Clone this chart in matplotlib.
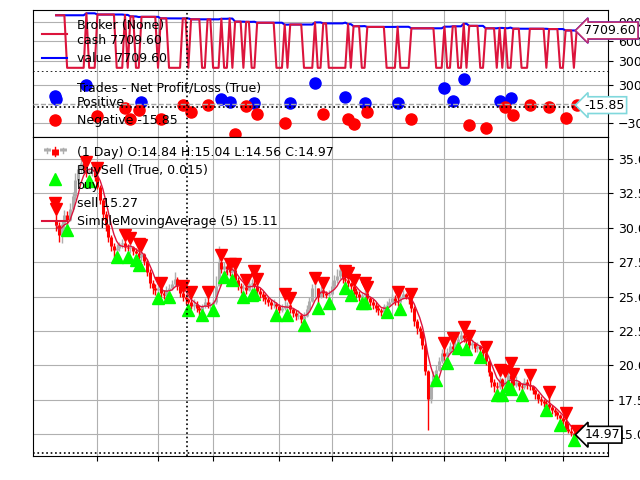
import matplotlib

matplotlib.use("Agg")
import matplotlib.pyplot as plt
import numpy as np
import pandas as pd
from matplotlib.legend_handler import HandlerBase
from matplotlib.lines import Line2D

# daily bars shown in the plot window (bar index 0..189)
open_first = 30.6
close = [
    30.2, 29.5, 30.3, 30.9, 30.6, 31.4, 32.3, 33.5, 34.3, 34.7,
    34.2, 34.0, 34.1, 34.3, 33.7, 33.0, 32.0, 31.0, 30.2, 29.3,
    28.7, 28.4, 28.5, 28.8, 28.9, 28.6, 28.5, 28.6, 28.3, 28.2,
    27.9, 28.1, 27.6, 26.8, 26.0, 25.6, 25.5, 25.6, 25.3, 25.1,
    25.5, 25.6, 25.9, 26.3, 25.8, 25.3, 25.0, 24.8, 24.6, 24.3,
    24.5, 24.2, 24.0, 24.3, 24.6, 24.4, 24.5, 24.6, 25.8, 27.5,
    27.0, 27.2, 27.0, 26.8, 26.9, 26.2, 25.8, 25.6, 25.7, 25.5,
    25.9, 26.0, 25.8, 25.4, 25.2, 25.0, 24.8, 24.6, 24.4, 24.5,
    24.3, 24.0, 24.2, 24.3, 24.4, 24.1, 23.8, 23.6, 23.7, 23.4,
    23.6, 24.1, 24.7, 25.6, 25.6, 25.0, 25.5, 25.3, 25.1, 25.2,
    25.8, 26.2, 26.5, 26.9, 26.3, 26.2, 26.0, 25.8, 25.4, 25.2,
    25.0, 25.1, 25.3, 24.9, 24.6, 24.4, 24.2, 24.0, 23.9, 24.3,
    24.4, 24.6, 24.9, 24.7, 24.6, 24.9, 25.2, 25.0, 24.8, 24.2,
    23.2, 22.7, 22.5, 21.5, 19.6, 17.6, 18.5, 19.3, 19.7, 20.3,
    20.9, 20.7, 21.0, 21.4, 21.2, 21.6, 21.9, 22.2, 22.0, 21.8,
    21.5, 21.6, 21.3, 21.4, 21.2, 20.9, 20.3, 19.5, 18.8, 18.5,
    18.4, 19.0, 18.5, 18.9, 19.3, 19.0, 18.6, 18.8, 18.5, 18.4,
    18.8, 18.6, 18.5, 18.2, 17.9, 17.6, 17.4, 17.3, 17.2, 17.0,
    16.8, 16.6, 16.4, 16.2, 16.0, 15.4, 15.25, 15.1, 14.84, 14.97,
]
high = [
    30.9, 30.4, 30.6, 31.3, 31.2, 31.8, 32.6, 34.0, 34.6, 35.0,
    34.9, 34.3, 34.3, 34.8, 34.4, 33.85, 33.1, 32.2, 31.2, 30.3,
    29.5, 28.9, 28.8, 29.0, 29.2, 29.05, 28.8, 28.8, 28.7, 28.5,
    28.4, 28.3, 28.2, 27.7, 27.0, 26.2, 25.9, 25.8, 25.6, 25.5,
    25.8, 25.9, 26.2, 26.8, 26.4, 25.9, 25.4, 25.2, 24.9, 24.97,
    24.8, 24.7, 24.4, 24.5, 24.9, 24.97, 24.6, 24.8, 26.5, 28.7,
    27.6, 27.5, 27.4, 27.0, 27.2, 27.0, 26.4, 26.0, 25.9, 25.8,
    26.3, 26.3, 26.5, 25.9, 25.6, 25.4, 25.2, 25.0, 24.8, 24.8,
    24.6, 24.5, 24.5, 24.8, 24.6, 24.5, 24.2, 24.0, 24.0, 23.8,
    23.9, 24.4, 25.0, 25.9, 26.0, 25.6, 25.8, 25.6, 25.4, 25.5,
    26.1, 26.6, 27.0, 27.4, 27.0, 26.5, 26.3, 26.1, 25.8, 25.6,
    25.4, 25.3, 25.6, 25.3, 25.0, 24.8, 24.6, 24.4, 24.2, 24.5,
    24.7, 24.9, 25.2, 25.1, 24.95, 25.3, 25.5, 25.3, 25.2, 24.8,
    24.3, 23.4, 22.9, 22.5, 21.6, 19.7, 18.9, 19.6, 20.0, 20.6,
    21.2, 21.3, 21.3, 21.7, 21.7, 21.9, 22.2, 22.5, 22.45, 22.1,
    21.8, 21.9, 21.7, 21.7, 21.5, 21.3, 21.0, 20.4, 19.6, 19.0,
    18.8, 19.4, 19.1, 19.3, 19.6, 19.9, 19.1, 19.2, 18.9, 18.7,
    19.1, 19.0, 19.0, 18.6, 18.3, 18.0, 17.8, 17.6, 17.5, 17.8,
    17.1, 16.9, 16.7, 16.5, 16.4, 16.3, 15.8, 15.5, 15.2, 15.04,
]
low = [
    29.8, 29.0, 28.9, 30.0, 30.3, 30.5, 31.2, 32.0, 33.2, 34.0,
    34.0, 33.7, 33.9, 33.8, 33.4, 32.8, 31.7, 30.6, 29.8, 29.0,
    28.3, 27.9, 28.3, 28.3, 28.5, 28.3, 28.3, 28.2, 28.0, 28.1,
    27.7, 27.6, 27.3, 26.5, 25.6, 25.2, 25.1, 25.3, 25.0, 24.8,
    25.0, 25.35, 25.5, 25.8, 25.5, 25.0, 24.7, 24.5, 24.4, 24.1,
    24.0, 23.9, 23.7, 24.0, 24.2, 24.2, 24.1, 24.4, 24.5, 26.0,
    26.7, 26.8, 26.6, 26.5, 26.6, 26.0, 25.5, 25.3, 25.35, 25.2,
    25.4, 25.5, 25.6, 25.1, 24.9, 24.7, 24.5, 24.3, 24.1, 24.2,
    24.0, 23.8, 23.9, 24.0, 24.05, 23.8, 23.5, 23.3, 23.4, 23.1,
    23.3, 23.5, 24.0, 24.6, 24.9, 24.55, 24.9, 25.0, 24.9, 24.9,
    25.1, 25.6, 26.0, 26.3, 26.0, 26.0, 25.7, 25.5, 25.1, 24.9,
    24.7, 24.9, 24.9, 24.6, 24.3, 24.1, 23.9, 23.7, 23.6, 23.8,
    24.25, 24.3, 24.5, 24.4, 24.3, 24.5, 24.8, 24.8, 24.5, 23.9,
    22.9, 22.3, 22.0, 21.2, 19.3, 15.3, 17.3, 18.4, 19.2, 19.6,
    20.2, 20.4, 20.5, 20.8, 20.9, 21.1, 21.6, 21.8, 21.7, 21.5,
    21.2, 21.2, 21.0, 21.0, 20.9, 20.6, 20.0, 19.2, 18.4, 18.1,
    18.1, 18.3, 18.1, 18.4, 18.8, 18.6, 18.2, 18.4, 18.2, 18.1,
    18.3, 18.3, 18.2, 17.9, 17.6, 17.3, 17.1, 17.0, 17.0, 16.7,
    16.5, 16.3, 16.1, 15.9, 15.7, 15.3, 15.1, 14.9, 14.8, 14.56,
]

# closed trades: bar of exit, net pnl; entry bar (first one opened before the window)
trade_exit = [0, 11, 15, 25, 27, 30, 31, 38, 46, 49, 55, 60, 63, 65, 69, 72, 73,
              83, 85, 94, 97, 105, 106, 108, 112, 113, 124, 129, 141, 144, 148,
              150, 156, 161, 163, 165, 166, 172, 179, 185, 189]
trade_entry = [None, 4, 12, 22, 26, 29, 30, 37, 41, 48, 53, 57, 61, 64, 68, 71, 72,
               80, 84, 90, 95, 99, 105, 107, 111, 112, 120, 125, 138, 142, 146,
               149, 154, 160, 162, 164, 165, 169, 178, 183, 188]
trade_pnl = [87, 305.45, -190, -60, -235, -97, 30, -235, -17, -129, -8, 87, 35,
             -480, -33, 19, -156, -300, 19, 332, -151, 114, -235, -320, 19, -129,
             19, -235, 253, 56, 400, -330, -380, 56, -40, 94, -172, -13, -40,
             -215, -15.85]

START_VALUE = 10000.0
CASH_IN_MARKET = 1900.0
BAR_DIST = 0.015
SMA_PERIOD = 5

month_ticks = [15, 37, 57, 81, 100, 122, 141, 163, 184]
cursor_x = 47.4


class CandleKey:
    pass


class CandleHandler(HandlerBase):
    def create_artists(self, legend, orig_handle, xdescent, ydescent,
                       width, height, fontsize, trans):
        arts = []
        specs = [(0.18, "0.68", 0.3, 0.95, 0.55, 0.9),
                 (0.5, "red", 0.0, 1.0, 0.15, 0.85),
                 (0.82, "0.68", 0.3, 0.95, 0.55, 0.9)]
        for fx, col, w0, w1, b0, b1 in specs:
            x = -xdescent + fx * width
            y0 = -ydescent
            arts.append(Line2D([x, x], [y0 + w0 * height, y0 + w1 * height],
                               color=col, lw=1.0, transform=trans))
            arts.append(Line2D([x, x], [y0 + b0 * height, y0 + b1 * height],
                               color=col, lw=5, solid_capstyle="butt",
                               transform=trans))
        return arts


def tag(ax, y, text, edge):
    ax.text(191.8, y, text, ha="left", va="center", fontsize=9, zorder=10,
            clip_on=False,
            bbox=dict(boxstyle="larrow,pad=0.15", fc="white", ec=edge, lw=1.2))


def main():
    n = len(close)
    x = np.arange(n)
    c = np.array(close)
    o = np.array([open_first] + close[:-1])
    h = np.array(high)
    lo = np.array(low)
    sma = pd.Series(c).rolling(SMA_PERIOD, min_periods=1).mean().values

    # broker cash / value from the trade list
    cash = np.zeros(n)
    value = np.zeros(n)
    for b in range(n):
        realized = START_VALUE + sum(p for e, p in zip(trade_exit, trade_pnl) if e <= b)
        in_mkt = any(en is not None and en <= b < ex
                     for en, ex in zip(trade_entry, trade_exit))
        value[b] = realized
        cash[b] = CASH_IN_MARKET if in_mkt else realized

    plt.rcParams["font.size"] = 9
    fig = plt.figure(figsize=(6.4, 4.8), dpi=100)
    left, width = 0.0511, 0.8994
    ax_b = fig.add_axes([left, 0.85063, width, 0.12854])
    ax_t = fig.add_axes([left, 0.71521, width, 0.13542], sharex=ax_b)
    ax_p = fig.add_axes([left, 0.050625, width, 0.66458], sharex=ax_b)

    for ax in (ax_b, ax_t, ax_p):
        ax.grid(True, color="#b0b0b0")
        ax.set_axisbelow(True)
        ax.yaxis.tick_right()
        ax.tick_params(axis="y", labelsize=9)
        ax.axvline(cursor_x, color="black", ls=":", lw=1.2, zorder=6)
    ax_b.set_xlim(-8.5, 200.5)
    ax_b.set_xticks(month_ticks)
    for ax in (ax_b, ax_t):
        ax.tick_params(axis="x", length=0, labelbottom=False)
    ax_p.tick_params(axis="x", labelbottom=False)

    # --- broker panel
    ax_b.plot(x, value, color="blue", lw=1.5, zorder=2)
    ax_b.plot(x, cash, color="crimson", lw=1.5, zorder=3)
    ax_b.set_ylim(1295, 10907)
    ax_b.set_yticks([3000, 6000, 9000])
    ax_b.spines["bottom"].set_visible(False)
    ax_b.axhline(1295, color="black", ls=":", lw=1.2, clip_on=False, zorder=6)
    h1 = Line2D([], [], color="crimson", lw=1.5)
    h2 = Line2D([], [], color="blue", lw=1.5)
    ax_b.legend([h1, h2], [f"Broker (None)\ncash {cash[-1]:.2f}", f"value {value[-1]:.2f}"],
                loc="upper left", frameon=False, fontsize=9, labelspacing=0.4,
                borderaxespad=0.35)
    tag(ax_b, value[-1], f"{value[-1]:.2f}", "blue")
    tag(ax_b, cash[-1], f"{cash[-1]:.2f}", "#c0306e")

    # --- trades panel
    pnl = np.array(trade_pnl)
    ex = np.array(trade_exit)
    pos = pnl > 0
    ax_t.plot(ex[pos], pnl[pos], "o", color="blue", ms=8, zorder=2)
    ax_t.plot(ex[~pos], pnl[~pos], "o", color="red", ms=8, zorder=2)
    ax_t.axhline(0, color="0.66", ls="--", lw=1, zorder=3)
    ax_t.axhline(-45, color="black", ls=":", lw=1.2, zorder=6)
    ax_t.set_ylim(-518, 516)
    ax_t.set_yticks([-300, 300])
    ax_t.spines["top"].set_visible(False)
    hp = Line2D([], [], marker="o", color="blue", ls="none", ms=8)
    hn = Line2D([], [], marker="o", color="red", ls="none", ms=8)
    last_neg = pnl[-1] if pnl[-1] < 0 else np.nan
    ax_t.legend([hp, hn], ["Trades - Net Profit/Loss (True)\nPositive", f"Negative {last_neg:.2f}"],
                loc="upper left", frameon=False, fontsize=9, numpoints=1,
                labelspacing=0.4, borderaxespad=0.35)
    tag(ax_t, last_neg, f"{last_neg:.2f}", "#80d8dc")

    # --- price panel
    up = c >= o
    cols = np.where(up, "0.68", "red")
    ax_p.vlines(x, lo, h, colors=cols, lw=1.0, zorder=2)
    ax_p.vlines(x, np.minimum(o, c), np.maximum(o, c), colors=cols, lw=2.2, zorder=2)
    ax_p.plot(x, sma, color="crimson", lw=1.0, zorder=3)
    buys = np.array([e for e in trade_entry if e is not None])
    sells = ex
    ax_p.plot(buys, lo[buys] * (1 - BAR_DIST), "^", color="lime", ms=8, zorder=4)
    ax_p.plot(sells, h[sells] * (1 + BAR_DIST), "v", color="red", ms=8, zorder=4)
    ax_p.axhline(13.62, color="black", ls=":", lw=1.2, zorder=6)
    ax_p.set_ylim(13.445, 36.62)
    yt = [15, 17.5, 20, 22.5, 25, 27.5, 30, 32.5, 35]
    ax_p.set_yticks(yt)
    ax_p.set_yticklabels([f"{v:.1f}" for v in yt])

    hb = Line2D([], [], marker="^", color="lime", ls="none", ms=8)
    hs = Line2D([], [], marker="v", color="red", ls="none", ms=8)
    hm = Line2D([], [], color="crimson", lw=1.5)
    sell_last = h[-1] * (1 + BAR_DIST) if (n - 1) in sells else np.nan
    labels = [
        f"(1 Day) O:{o[-1]:.2f} H:{h[-1]:.2f} L:{lo[-1]:.2f} C:{c[-1]:.2f}",
        "BuySell (True, 0.015)\nbuy",
        f"sell {sell_last:.2f}",
        f"SimpleMovingAverage ({SMA_PERIOD}) {sma[-1]:.2f}",
    ]
    ax_p.legend([CandleKey(), hb, hs, hm], labels, loc="upper left", frameon=False,
                fontsize=9, numpoints=1, labelspacing=0.4, borderaxespad=0.35,
                handler_map={CandleKey: CandleHandler()})
    tag(ax_p, sell_last, "", "#80d8dc")
    tag(ax_p, c[-1], f"{c[-1]:.2f}", "black")

    fig.savefig("out.png", dpi=100)


if __name__ == "__main__":
    main()
